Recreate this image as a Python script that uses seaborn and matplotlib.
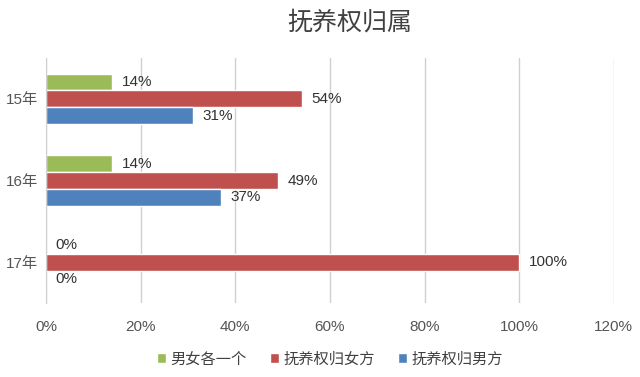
import matplotlib
matplotlib.use("Agg")
import matplotlib.pyplot as plt
import pandas as pd
import seaborn as sns

years = ["15年", "16年", "17年"]
both = [0.14, 0.14, 0.0]      # 男女各一个
mother = [0.54, 0.49, 1.0]    # 抚养权归女方
father = [0.31, 0.37, 0.0]    # 抚养权归男方
series = ["男女各一个", "抚养权归女方", "抚养权归男方"]
colors = ["#9BBB59", "#C0504D", "#4F81BD"]

df = pd.DataFrame({
    "year": years * 3,
    "kind": [s for s in series for _ in years],
    "value": both + mother + father,
})

sns.set_style("white")
# 数字用 Liberation Sans，中文回退到 Noto Sans CJK
plt.rcParams["font.family"] = ["Liberation Sans", "Noto Sans CJK SC", "DejaVu Sans"]

fig = plt.figure(figsize=(6.4, 3.77), dpi=100)
ax = fig.add_axes([0.072, 0.196, 0.887, 0.65])

sns.barplot(data=df, y="year", x="value", hue="kind", order=years,
            hue_order=series, palette=colors, orient="h", width=0.62,
            saturation=1, ax=ax, legend=True)

# 数据标签
for cont in ax.containers:
    ax.bar_label(cont, labels=[f"{v:.0%}" for v in cont.datavalues],
                 padding=7, fontsize=11, color="#333333")

ax.set_xlim(0, 1.2)
ax.set_xticks([0, 0.2, 0.4, 0.6, 0.8, 1.0, 1.2])
ax.set_xticklabels(["0%", "20%", "40%", "60%", "80%", "100%", "120%"])
ax.tick_params(axis="x", length=0, pad=12, labelsize=11, labelcolor="#555555")
ax.tick_params(axis="y", length=0, pad=6, labelsize=11, labelcolor="#555555")
ax.set_xlabel("")
ax.set_ylabel("")
ax.grid(axis="x", color="#d0d0d0", linewidth=1)
ax.set_axisbelow(True)
for s in ["top", "right", "bottom"]:
    ax.spines[s].set_visible(False)
ax.spines["left"].set_color("#d0d0d0")

ax.legend(loc="upper center", bbox_to_anchor=(0.5, -0.145), ncol=3,
          frameon=False, fontsize=11, handlelength=0.6, handleheight=0.6,
          handletextpad=0.3, columnspacing=1.5, labelcolor="#404040")

fig.text(0.547, 0.94, "抚养权归属", ha="center", va="center",
         fontsize=18, color="#404040")

fig.savefig("out.png", dpi=100)
